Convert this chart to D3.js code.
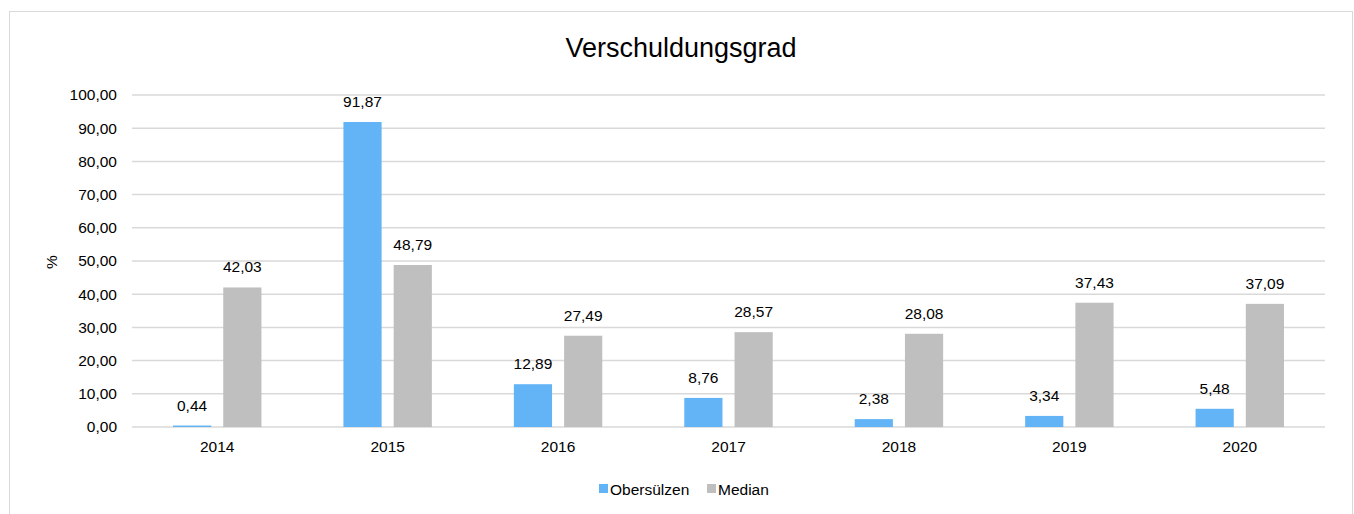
<!DOCTYPE html>
<html>
<head>
<meta charset="utf-8">
<script src="https://cdn.jsdelivr.net/npm/d3@7"></script>
<style>
  body { margin: 0; background: #fff; }
  svg { font-family: "Liberation Sans", Arial, sans-serif; }
</style>
</head>
<body>
<svg id="chart" width="1354" height="514"></svg>
<script>
const years = ["2014", "2015", "2016", "2017", "2018", "2019", "2020"];
const obersuelzen = [0.44, 91.87, 12.89, 8.76, 2.38, 3.34, 5.48];
const median = [42.03, 48.79, 27.49, 28.57, 28.08, 37.43, 37.09];
const yTicks = [0, 10, 20, 30, 40, 50, 60, 70, 80, 90, 100];
const seriesNames = ["Obersülzen", "Median"];
const colors = ["#63B4F6", "#BFBFBF"];

const svg = d3.select("#chart");
const margin = {top: 95, right: 29, bottom: 87, left: 132};
const width = 1354 - margin.left - margin.right;
const height = 514 - margin.top - margin.bottom;
const fs = 15.5;

// outer frame
svg.append("rect")
    .attr("x", 9.5).attr("y", 11.5)
    .attr("width", 1343).attr("height", 520)
    .attr("fill", "none")
    .attr("stroke", "#D9D9D9")
    .attr("stroke-width", 1);

svg.append("text")
    .attr("x", 681).attr("y", 57)
    .attr("text-anchor", "middle")
    .attr("font-size", 27)
    .attr("fill", "#000")
    .text("Verschuldungsgrad");

const g = svg.append("g")
    .attr("transform", "translate(" + margin.left + "," + margin.top + ")");

const x = d3.scaleBand().domain(years).range([0, width]).paddingInner(0).paddingOuter(0);
const x1 = d3.scaleBand().domain(seriesNames).range([41, x.bandwidth() - 41]).paddingInner(0.24);
const y = d3.scaleLinear().domain([0, 100]).range([height, 0]);

const fmt = v => d3.format(".2f")(v).replace(".", ",");

// grid
g.append("g")
    .selectAll("line")
    .data(yTicks)
    .join("line")
    .attr("x1", 0).attr("x2", width)
    .attr("y1", d => y(d)).attr("y2", d => y(d))
    .attr("stroke", "#D9D9D9")
    .attr("stroke-width", 1.5);

// y axis labels
g.append("g")
    .call(d3.axisLeft(y).tickValues(yTicks).tickFormat(fmt).tickSize(0).tickPadding(15))
    .call(a => a.select(".domain").remove())
    .selectAll("text")
    .attr("font-size", fs)
    .attr("font-family", "Liberation Sans, Arial, sans-serif")
    .attr("fill", "#000");

// x axis labels
g.append("g")
    .attr("transform", "translate(0," + height + ")")
    .call(d3.axisBottom(x).tickSize(0).tickPadding(14))
    .call(a => a.select(".domain").remove())
    .selectAll("text")
    .attr("font-size", fs)
    .attr("font-family", "Liberation Sans, Arial, sans-serif")
    .attr("fill", "#000");

svg.append("text")
    .attr("transform", "translate(57,262) rotate(-90)")
    .attr("text-anchor", "middle")
    .attr("font-size", fs)
    .text("%");

const rows = years.map((yr, i) => ({year: yr, values: [obersuelzen[i], median[i]]}));

const groups = g.selectAll("g.year")
    .data(rows)
    .join("g")
    .attr("class", "year")
    .attr("transform", d => "translate(" + x(d.year) + ",0)");

groups.selectAll("rect")
    .data(d => d.values.map((v, k) => ({key: seriesNames[k], v: v, k: k})))
    .join("rect")
    .attr("x", d => x1(d.key))
    .attr("width", x1.bandwidth())
    .attr("y", d => y(d.v))
    .attr("height", d => height - y(d.v))
    .attr("fill", d => colors[d.k]);

groups.selectAll("text.lbl")
    .data(d => d.values.map((v, k) => ({key: seriesNames[k], v: v, k: k})))
    .join("text")
    .attr("class", "lbl")
    .attr("x", d => x1(d.key) + x1.bandwidth() / 2)
    .attr("y", d => y(d.v) - 15)
    .attr("text-anchor", "middle")
    .attr("font-size", fs)
    .attr("fill", "#000")
    .text(d => fmt(d.v));

// legend
const legend = svg.append("g").attr("transform", "translate(599,489)");
const legX = [0, 108];
seriesNames.forEach((name, i) => {
    const lg = legend.append("g").attr("transform", "translate(" + legX[i] + ",0)");
    lg.append("rect").attr("x", 0).attr("y", -5).attr("width", 9).attr("height", 9).attr("fill", colors[i]);
    lg.append("text").attr("x", 11).attr("y", 5.5).attr("font-size", fs).text(name);
});
</script>
</body>
</html>
